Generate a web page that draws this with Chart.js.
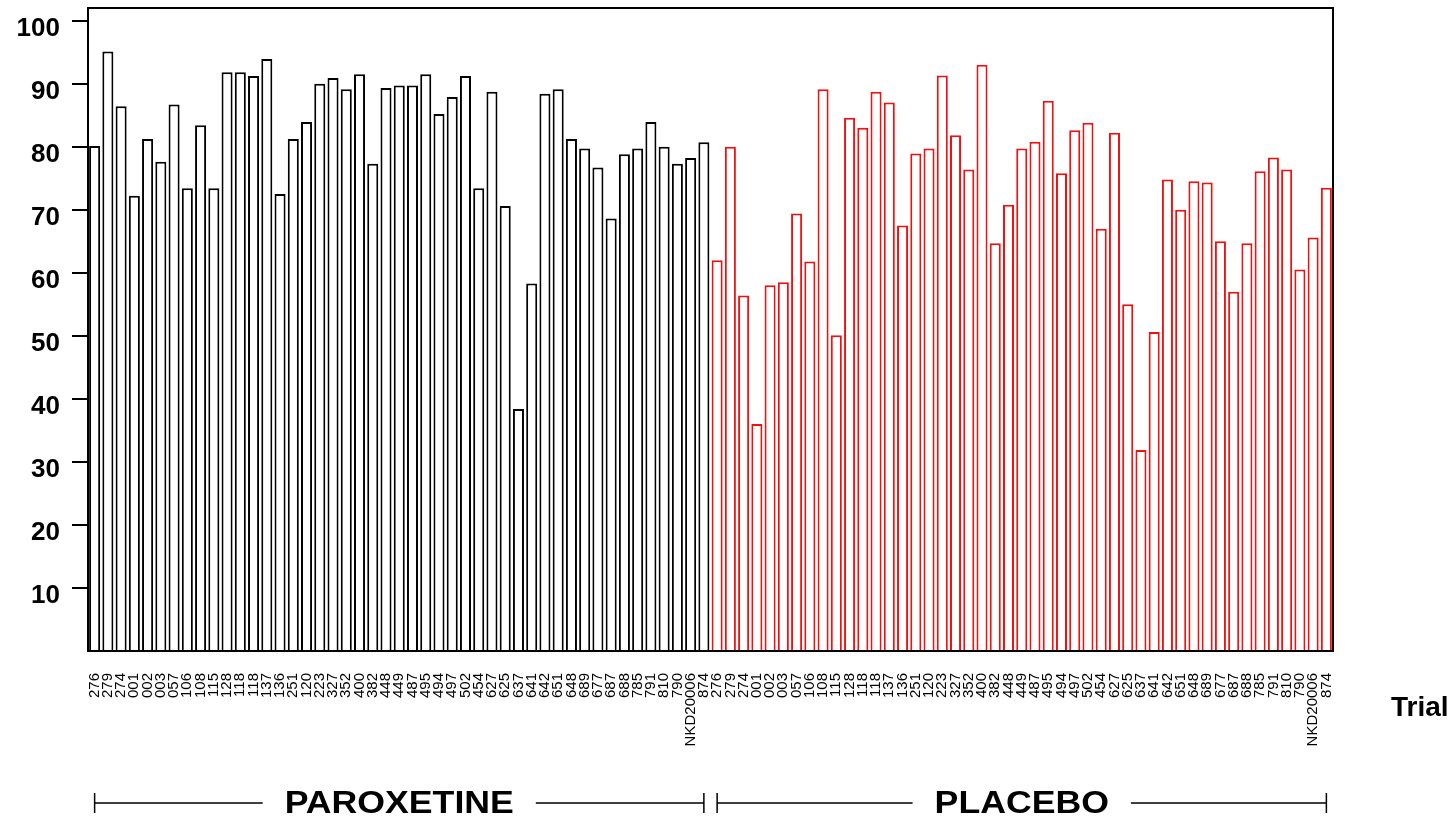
<!DOCTYPE html>
<html>
<head>
<meta charset="utf-8">
<script src="https://cdn.jsdelivr.net/npm/chart.js@4/dist/chart.umd.min.js"></script>
<style>
  body { margin: 0; background: #fff; }
  #wrap { width: 1450px; height: 823px; }
</style>
</head>
<body>
<div id="wrap"><canvas id="trialChart" width="1450" height="823"></canvas></div>
<script>
// trial ids, same order for both arms
const trials = ['276', '279', '274', '001', '002', '003', '057', '106', '108', '115',
    '128', '118', '118', '137', '136', '251', '120', '223', '327', '352',
    '400', '382', '448', '449', '487', '495', '494', '497', '502', '454',
    '627', '625', '637', '641', '642', '651', '648', '689', '677', '687',
    '688', '785', '791', '810', '790', 'NKD20006', '874'];

const paroxetine = [80.1, 95.1, 86.4, 72.2, 81.2, 77.6, 86.7, 73.4, 83.4, 73.4,
    91.8, 91.8, 91.2, 93.9, 72.5, 81.2, 83.9, 90.0, 90.9, 89.1,
    91.5, 77.3, 89.3, 89.7, 89.7, 91.5, 85.2, 87.9, 91.2, 73.4,
    88.7, 70.6, 38.4, 58.3, 88.4, 89.1, 81.2, 79.7, 76.7, 68.6,
    78.8, 79.7, 83.9, 80.0, 77.3, 78.2, 80.7];

const placebo = [62.0, 80.0, 56.4, 36.0, 58.0, 58.5, 69.4, 61.8, 89.1, 50.1,
    84.6, 83.0, 88.7, 87.0, 67.5, 78.9, 79.7, 91.3, 81.8, 76.4,
    93.0, 64.7, 70.8, 79.7, 80.8, 87.3, 75.8, 82.6, 83.8, 67.0,
    82.2, 55.0, 31.9, 50.6, 74.8, 70.0, 74.5, 74.3, 65.0, 57.0,
    64.7, 76.1, 78.3, 76.4, 60.5, 65.6, 73.5];

const yTicks = [10, 20, 30, 40, 50, 60, 70, 80, 90, 100];
const groupNames = ['PAROXETINE', 'PLACEBO'];
const axisTitle = 'Trial';

const n = trials.length;
const blanks = trials.map(() => null);

// box round the plot, group brackets under the labels, axis word
const decorations = {
    id: 'decorations',
    afterDraw(chart) {
        const { ctx, chartArea: a, scales: { x } } = chart;
        ctx.save();
        ctx.strokeStyle = '#000';
        ctx.lineWidth = 2;
        ctx.strokeRect(a.left, a.top, a.right - a.left, a.bottom - a.top);

        drawBracket(ctx, x.getPixelForValue(0), x.getPixelForValue(n - 1), 803, groupNames[0]);
        drawBracket(ctx, x.getPixelForValue(n), x.getPixelForValue(2 * n - 1), 803, groupNames[1]);

        ctx.fillStyle = '#000';
        ctx.font = 'bold 28px "Liberation Sans", Arial, sans-serif';
        ctx.textAlign = 'left';
        ctx.textBaseline = 'middle';
        ctx.fillText(axisTitle, 1391, 708);
        ctx.restore();
    }
};

function drawBracket(ctx, x1, x2, y, label) {
    const mid = (x1 + x2) / 2;
    const stretch = 1.15;
    ctx.font = 'bold 31px "Liberation Sans", Arial, sans-serif';
    const half = ctx.measureText(label).width * stretch / 2;
    const gap = 22;

    ctx.lineWidth = 1.5;
    ctx.beginPath();
    ctx.moveTo(x1, y); ctx.lineTo(mid - half - gap, y);
    ctx.moveTo(mid + half + gap, y); ctx.lineTo(x2, y);
    ctx.moveTo(x1, y - 10); ctx.lineTo(x1, y + 10);
    ctx.moveTo(x2, y - 10); ctx.lineTo(x2, y + 10);
    ctx.stroke();

    ctx.save();
    ctx.translate(mid, y + 1);
    ctx.scale(stretch, 1);
    ctx.fillStyle = '#000';
    ctx.textAlign = 'center';
    ctx.textBaseline = 'middle';
    ctx.fillText(label, 0, 0);
    ctx.restore();
}

new Chart(document.getElementById('trialChart'), {
    type: 'bar',
    data: {
        labels: trials.concat(trials),
        datasets: [
            {
                label: groupNames[0],
                data: paroxetine.concat(blanks),
                borderColor: '#000',
                backgroundColor: '#fff',
                borderWidth: 2
            },
            {
                label: groupNames[1],
                data: blanks.concat(placebo),
                borderColor: '#f01010',
                backgroundColor: '#fff',
                borderWidth: 2
            }
        ]
    },
    options: {
        responsive: false,
        animation: false,
        grouped: false,
        categoryPercentage: 1,
        barPercentage: 0.833,
        layout: { padding: { top: 8, right: 117, left: 0, bottom: 0 } },
        plugins: {
            legend: { display: false },
            tooltip: { enabled: false }
        },
        scales: {
            x: {
                grid: { display: false, drawTicks: false },
                border: { display: false },
                ticks: {
                    autoSkip: false,
                    minRotation: 90,
                    maxRotation: 90,
                    padding: 22,
                    color: '#000',
                    font: { family: '"Liberation Sans", Arial, sans-serif', size: 15 }
                },
                afterFit(scale) {
                    scale.height = 172;
                    scale.paddingLeft = 0;
                    scale.paddingRight = 0;
                }
            },
            y: {
                min: 0,
                max: 102,
                grid: { drawOnChartArea: false, drawTicks: true, tickLength: 16, color: '#000', lineWidth: 2 },
                border: { display: false },
                ticks: {
                    padding: 12,
                    labelOffset: 8,
                    color: '#000',
                    font: { family: '"Liberation Sans", Arial, sans-serif', size: 26, weight: 'bold' }
                },
                afterBuildTicks(scale) {
                    scale.ticks = yTicks.map(v => ({ value: v }));
                },
                afterFit(scale) {
                    scale.width = 88;
                    scale.paddingTop = 0;
                    scale.paddingBottom = 0;
                }
            }
        }
    },
    plugins: [decorations]
});
</script>
</body>
</html>
